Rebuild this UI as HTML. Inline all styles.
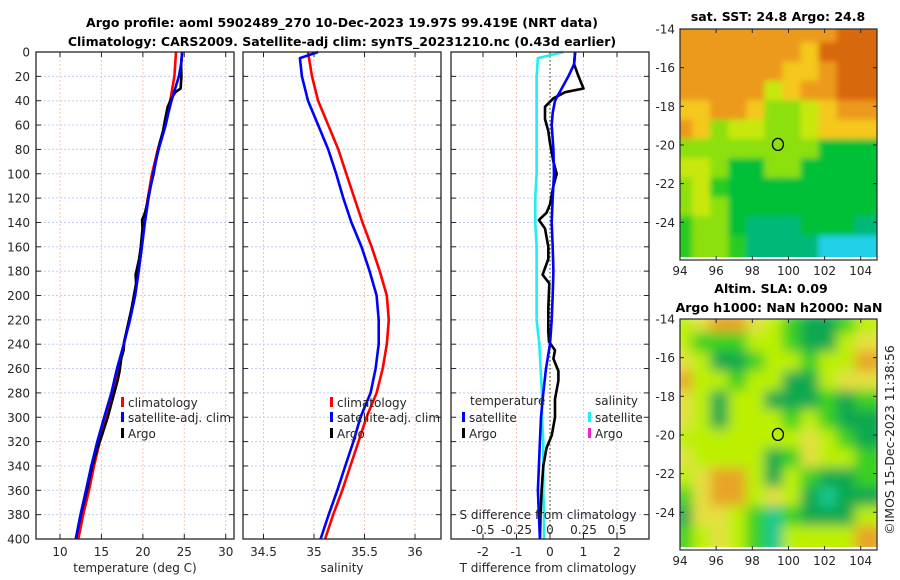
<!DOCTYPE html>
<html><head><meta charset="utf-8"><style>
html,body{margin:0;padding:0;background:#fff;}
svg{display:block;font-family:"DejaVu Sans","Liberation Sans",sans-serif;}
.tk{font-size:12px;fill:#262626;}
.tt{font-size:12.5px;font-weight:bold;fill:#000;}
</style></head><body>
<svg id="fig" width="900" height="580" viewBox="0 0 900 580" xmlns="http://www.w3.org/2000/svg">
<defs>
<filter id="blur1" x="-10%" y="-10%" width="120%" height="120%"><feGaussianBlur stdDeviation="3"/></filter>
<filter id="blur2" x="-10%" y="-10%" width="120%" height="120%"><feGaussianBlur stdDeviation="6"/></filter>
<clipPath id="c1"><rect x="680" y="29" width="197" height="230"/></clipPath>
<clipPath id="c2"><rect x="680" y="319" width="197" height="230"/></clipPath>
</defs>
<text class="tt" x="342" y="27" text-anchor="middle">Argo profile: aoml 5902489_270 10-Dec-2023 19.97S 99.419E (NRT data)</text>
<text class="tt" x="342" y="46" text-anchor="middle">Climatology: CARS2009. Satellite-adj clim: synTS_20231210.nc (0.43d earlier)</text>
<g id="g"></g>
</svg>
<script>
// ---- profile data ----
const climDepth = [0,20,40,60,80,100,120,140,160,180,200,220,240,260,280,300,320,340,360,380,400];
const climTemp = [24.0,23.8,23.3,22.7,21.8,21.1,20.6,20.2,19.8,19.4,19.0,18.4,17.7,17.0,16.4,15.6,14.8,14.1,13.5,12.8,12.2];
const climSal = [34.94,34.98,35.04,35.14,35.24,35.32,35.40,35.48,35.57,35.65,35.72,35.74,35.72,35.68,35.62,35.52,35.44,35.36,35.28,35.19,35.11];
const satTDepth = [0,10,20,30,40,50,60,80,100,120,140,160,180,200,220,240,260,280,300,320,340,360,380,400];
const satTDiff = [0.75,0.72,0.55,0.35,0.15,0.08,0.05,0.1,0.12,0.08,0.05,0.08,0.1,0.08,0.05,0.0,-0.12,-0.2,-0.27,-0.3,-0.33,-0.36,-0.33,-0.3];
const satSDepth = [0,5,20,40,60,80,100,120,140,160,180,200,220,240,260,280,300,320,340,360,380,400];
const satSDiff = [0.1,-0.09,-0.1,-0.1,-0.1,-0.1,-0.1,-0.11,-0.11,-0.1,-0.1,-0.1,-0.1,-0.08,-0.07,-0.06,-0.06,-0.05,-0.05,-0.05,-0.045,-0.045];
const argoDepth = [0,10,20,30,33,38,45,55,65,75,90,100,110,125,132,138,145,160,170,183,190,210,230,238,245,252,262,270,285,300,315,325,340,360,380,400];
const argoTDiff = [0.75,0.72,0.85,1.0,0.45,0.1,-0.15,-0.15,-0.05,0.0,0.1,0.2,0.1,0.0,-0.1,-0.33,-0.15,-0.05,-0.05,-0.22,-0.02,-0.05,-0.05,-0.03,0.15,0.1,0.25,0.25,0.15,0.15,0.05,-0.1,-0.2,-0.25,-0.28,-0.3];
const depthTicks = [0,20,40,60,80,100,120,140,160,180,200,220,240,260,280,300,320,340,360,380,400];
const tempTicks = [10,15,20,25,30];
const salTicks = [34.5,35,35.5,36];
const tdTicks = [-2,-1,0,1,2];
const sdTicks = [-0.5,-0.25,0,0.25,0.5];
const sdLabels = ['-0.5','-0.25','0','0.25','0.5'];
const lonTicks = [94,96,98,100,102,104];
const latTicks = [-14,-16,-18,-20,-22,-24];
// ---- map data (coarse colour grids, rows -14..-25, cols 94..104) ----
const sstRows = ["oooooooooOO","oooooooyOOO","ooooooyyoOO","oooooYyooO","yyooyLLYyoo","oyLYYLLYyyy","LLLLLLLLGGG","YYLGGLLGGGG","LYgGGGGGGGG","LYLGGGGGGGG","gLLGtttGGGt","gLLgttttcc"];
const slaRows = ["YyooyYgGGgY","YgggYYgGGYy","yYGGgYYgYYo","oYYgYYGGYyy","yYGYYGGGgGg","yYGYYYgYgGG","YYYYYYYyYgG","yYYYYGgyYYg","YyooYGYgGGg","gyooYyYGtGG","GyyYgtgGGGY","gYyYgtYYYYo"];
const sstCol = {O:'#d8680c',o:'#ec9a1c',y:'#f4c81c',Y:'#c8e808',L:'#8ce010',g:'#28cc20',G:'#00c038',t:'#00b878',c:'#20d0e8'};
const slaCol = {o:'#e8a428',y:'#e4e040',Y:'#bcf000',g:'#38d020',G:'#10a850',t:'#18c890'};

const NS='http://www.w3.org/2000/svg';
const G=document.getElementById('g');
function mk(tag,attrs,parent){const e=document.createElementNS(NS,tag);for(const k in attrs)e.setAttribute(k,attrs[k]);(parent||G).appendChild(e);return e;}
function txt(s,x,y,anchor,cls,parent){const t=mk('text',{x:x,y:y,'text-anchor':anchor||'middle',class:cls||'tk'},parent);t.textContent=s;return t;}
function interp(ds,vs,d){for(let i=0;i<ds.length-1;i++){if(d>=ds[i]&&d<=ds[i+1]){const f=(d-ds[i])/(ds[i+1]-ds[i]);return vs[i]+f*(vs[i+1]-vs[i]);}}return vs[vs.length-1];}

const Y0=52,Y1=539;
function yD(d){return Y0+(d/400)*(Y1-Y0);}
function lin(d0,d1,r0,r1){return v=>r0+(v-d0)/(d1-d0)*(r1-r0);}
const P1={x0:36,x1:234,sx:lin(7.1,31.0,36,234)};
const P2={x0:243,x1:441,sx:lin(34.297,36.257,243,441)};
const P3={x0:451,x1:649,sx:lin(-2.955,2.955,451,649)};

function panel(P,ticks,labels,name,showY,gridCol){
  const g=mk('g',{});
  
  
  depthTicks.forEach(d=>{mk('line',{x1:P.x0,x2:P.x1,y1:yD(d),y2:yD(d),stroke:'#c4cdf0','stroke-width':1,'stroke-dasharray':'2,2'},g);
    mk('line',{x1:P.x0,x2:P.x0+5,y1:yD(d),y2:yD(d),stroke:'#262626'},g);
    mk('line',{x1:P.x1,x2:P.x1-5,y1:yD(d),y2:yD(d),stroke:'#262626'},g);
    if(showY){const t=txt(String(d),30,yD(d)+4.5,'end','tk',g);}});
  ticks.forEach((v,i)=>{const x=P.sx(v);mk('line',{x1:x,x2:x,y1:Y0,y2:Y1,stroke:gridCol,'stroke-width':1,'stroke-dasharray':'2,2'},g);
    mk('line',{x1:x,x2:x,y1:Y1,y2:Y1-5,stroke:'#262626'},g);mk('line',{x1:x,x2:x,y1:Y0,y2:Y0+5,stroke:'#262626'},g);
    const t=txt(labels[i],x,556,'middle','tk',g);});
  return g;
}
function frame(P,g){mk('rect',{x:P.x0,y:Y0,width:P.x1-P.x0,height:Y1-Y0,fill:'none',stroke:'#262626','stroke-width':1.3},g);}
function path(pts,color,g,name,w){const p=mk('polyline',{points:pts.map(p=>p[0].toFixed(1)+','+p[1].toFixed(1)).join(' '),fill:'none',stroke:color,'stroke-width':w||2.6,'stroke-linejoin':'round'},g);
  return p;}

// Panel 1 temperature
const g1=panel(P1,tempTicks,tempTicks.map(String),'temperature-panel',true,'#f0c8b8');
path(climDepth.map((d,i)=>[P1.sx(climTemp[i]),yD(d)]),'#ff0000',g1,'temp-climatology-line');
path(argoDepth.map((d,i)=>[P1.sx(interp(climDepth,climTemp,d)+argoTDiff[i]),yD(d)]),'#000000',g1,'temp-argo-line');
path(satTDepth.map((d,i)=>[P1.sx(interp(climDepth,climTemp,d)+satTDiff[i]),yD(d)]),'#0000ff',g1,'temp-satellite-line');
frame(P1,g1);
let t=txt('temperature (deg C)',135,572,'middle','tk',g1);

// Panel 2 salinity
const g2=panel(P2,salTicks,salTicks.map(String),'salinity-panel',false,'#f0c8b8');
path(climDepth.map((d,i)=>[P2.sx(climSal[i]),yD(d)]),'#ff0000',g2,'sal-climatology-line');
path(satSDepth.map((d,i)=>[P2.sx(interp(climDepth,climSal,d)+satSDiff[i]),yD(d)]),'#0000ff',g2,'sal-satellite-line');
frame(P2,g2);
t=txt('salinity',342,572,'middle','tk',g2);

// Panel 3 differences
const g3=panel(P3,tdTicks,tdTicks.map(String),'difference-panel',false,'#f0c8b8');
mk('line',{x1:P3.sx(0),x2:P3.sx(0),y1:Y0,y2:Y1,stroke:'#555533','stroke-width':1.2,'stroke-dasharray':'1.5,2.5'},g3);
path(satSDepth.map((d,i)=>[P3.sx(satSDiff[i]*4),yD(d)]),'#22eef0',g3,'sal-diff-satellite-line');
path(argoDepth.map((d,i)=>[P3.sx(argoTDiff[i]),yD(d)]),'#000000',g3,'temp-diff-argo-line');
path(satTDepth.map((d,i)=>[P3.sx(satTDiff[i]),yD(d)]),'#0000ff',g3,'temp-diff-satellite-line');
frame(P3,g3);
t=txt('T difference from climatology',548,572,'middle','tk',g3);
t=txt('S difference from climatology',548,519,'middle','tk',g3);
sdTicks.forEach((v,i)=>{const tt=txt(sdLabels[i],P3.sx(v*4),534,'middle','tk',g3);});

// legends
function legEntry(x,y,color,label,g){mk('rect',{x:x,y:y-10,width:3,height:10,fill:color},g);const e=txt(label,x+7,y,'start','tk',g);}
const lg1=mk('g',{});
legEntry(121,407,'#ff0000','climatology',lg1);legEntry(121,422,'#0000ff','satellite-adj. clim',lg1);legEntry(121,438,'#000000','Argo',lg1);
const lg2=mk('g',{});
legEntry(330,407,'#ff0000','climatology',lg2);legEntry(330,422,'#0000ff','satellite-adj. clim',lg2);legEntry(330,438,'#000000','Argo',lg2);
const lg3=mk('g',{});
txt('temperature',470,405,'start','tk',lg3);legEntry(462,422,'#0000ff','satellite',lg3);legEntry(462,438,'#000000','Argo',lg3);
txt('salinity',595,405,'start','tk',lg3);legEntry(588,422,'#22eef0','satellite',lg3);legEntry(588,438,'#ee22cc','Argo',lg3);

// Maps
const MX0=680,MX1=877;
const mlon=lin(94,104.9,680,877);
function mapPanel(Y0m,rows,cols,clip,blur,name){
  const g=mk('g',{});
  const mlat=lin(-14,-25.9,Y0m,Y0m+230);
  const cg=mk('g',{'clip-path':'url(#'+clip+')'},g);
  const bg=mk('g',{filter:'url(#'+blur+')'},cg);
  rows.forEach((r,ri)=>{for(let ci=0;ci<11;ci++){const ch=r[Math.min(ci,r.length-1)];
    mk('rect',{x:mlon(94+ci)-6,y:mlat(-14-ri)-6,width:mlon(95)-mlon(94)+12,height:mlat(-15)-mlat(-14)+12,fill:cols[ch]},bg);}});
  mk('rect',{x:MX0,y:Y0m+228,width:197,height:4,fill:'#fff'},cg);
  const c=mk('ellipse',{cx:mlon(99.419),cy:mlat(-19.97),rx:5.5,ry:6,fill:'none',stroke:'#000','stroke-width':1.3},g);
  
  mk('rect',{x:MX0,y:Y0m,width:197,height:231,fill:'none',stroke:'#262626','stroke-width':1.2},g);
  latTicks.forEach(v=>{const y=mlat(v);mk('line',{x1:MX0,x2:MX0+4,y1:y,y2:y,stroke:'#262626'},g);mk('line',{x1:MX1,x2:MX1-4,y1:y,y2:y,stroke:'#262626'},g);
    const l=txt(String(v),675,y+4.5,'end','tk',g);});
  lonTicks.forEach(v=>{const x=mlon(v);mk('line',{x1:x,x2:x,y1:Y0m+231,y2:Y0m+227,stroke:'#262626'},g);mk('line',{x1:x,x2:x,y1:Y0m,y2:Y0m+4,stroke:'#262626'},g);
    const l=txt(String(v),x,Y0m+246,'middle','tk',g);});
}
mapPanel(29,sstRows,sstCol,'c1','blur1','sst-map');
mapPanel(319,slaRows,slaCol,'c2','blur2','sla-map');
t=txt('sat. SST: 24.8 Argo: 24.8',778,21,'middle','tt');
t=txt('Altim. SLA: 0.09',771,293,'middle','tt');
t=txt('Argo h1000: NaN h2000: NaN',779,312,'middle','tt');
t=txt('©IMOS 15-Dec-2023 11:38:56',0,0,'middle','tk');t.setAttribute('transform','translate(894,440) rotate(-90)');t.setAttribute('style','font-size:12.5px');

</script>
</body></html>
